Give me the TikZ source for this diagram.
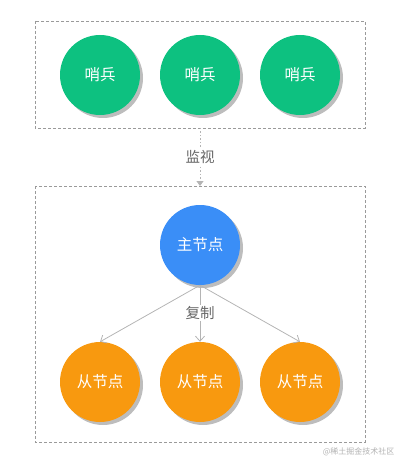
\documentclass[tikz,border=0pt]{standalone}
\usepackage{fontspec}
\newfontfamily\cjk{Noto Sans CJK SC}
\usetikzlibrary{arrows.meta}
\definecolor{sgreen}{HTML}{0DC180}
\definecolor{mblue}{HTML}{3A8EF7}
\definecolor{sorange}{HTML}{F8990F}
\definecolor{boxgray}{HTML}{9A9A9A}
\definecolor{linegray}{HTML}{B4B4B4}
\definecolor{shadowgray}{HTML}{BDBDBD}
\tikzset{
  ball/.style={circle, minimum size=80pt, inner sep=0pt, text=white,
    font=\cjk\fontsize{15.5}{18}\selectfont},
  ballshadow/.style={circle, minimum size=80pt, inner sep=0pt, fill=shadowgray},
  groupbox/.style={draw=boxgray, line width=0.7pt, dash pattern=on 3pt off 2pt},
  repl/.style={draw=linegray, line width=0.8pt, -{Straight Barb[length=5pt,width=9pt]}},
  monitor/.style={draw=linegray, line width=1pt, dash pattern=on 1.5pt off 2pt, -{Triangle[length=5pt,width=7pt]}},
  lbl/.style={text=black!60, font=\cjk\fontsize{14.5}{17}\selectfont, inner sep=1pt},
}
\begin{document}
\begin{tikzpicture}[x=1pt,y=-1pt]
\useasboundingbox (0,0) rectangle (401,465);
% boxes
\draw[groupbox] (35,21) rectangle (365,128);
\draw[groupbox] (35,186) rectangle (365,442);
\coordinate (topb) at (200,128);
\coordinate (botb) at (200,186);
% shadows
\foreach \x/\y in {100/75,200/75,300/75,200/245,100/382,200/382,300/382}
  \node[ballshadow] at (\x+3,\y+3) {};
% sentinels
\node[ball, fill=sgreen] (s1) at (100,75) {哨兵};
\node[ball, fill=sgreen] (s2) at (200,75) {哨兵};
\node[ball, fill=sgreen] (s3) at (300,75) {哨兵};
% master
\node[ball, fill=mblue] (m) at (200,245) {主节点};
% slaves
\node[ball, fill=sorange] (r1) at (100,382) {从节点};
\node[ball, fill=sorange] (r2) at (200,382) {从节点};
\node[ball, fill=sorange] (r3) at (300,382) {从节点};
% monitor
\draw[monitor] (topb) -- (botb);
\node[lbl, fill=white] (mon) at (200,157) {监视};
% replication
\draw[repl] (m.south) -- (r1.north);
\draw[repl] (m.south) -- (r2.north);
\draw[repl] (m.south) -- (r3.north);
\node[lbl, fill=white] (rep) at (200,313) {复制};
% watermark
\node[text=black!30, font=\cjk\fontsize{8}{10}\selectfont, anchor=east] (wm) at (398,452) {@稀土掘金技术社区};
\end{tikzpicture}
\end{document}
